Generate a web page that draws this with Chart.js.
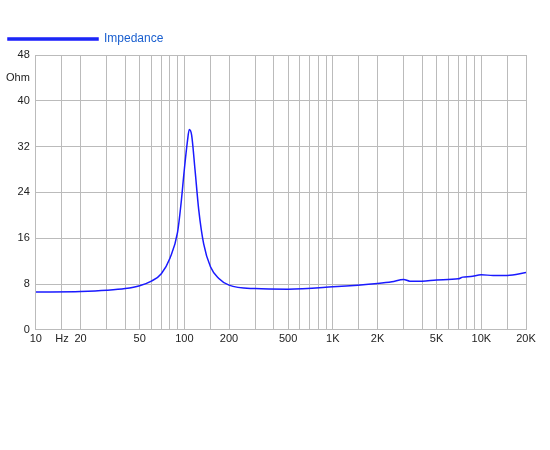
<!DOCTYPE html>
<html><head><meta charset="utf-8">
<script src="https://cdn.jsdelivr.net/npm/chart.js@4"></script>
<style>body{margin:0;background:#fff}#wrap{position:absolute;left:0;top:25px;width:550px;height:324px}</style>
</head><body>
<div id="wrap"><canvas id="c"></canvas></div>
<script>
const freqs = [10,20,30,40,50,60,70,80,90,95,100,105,108,112,118,125,135,150,170,200,300,500,1000,2000,2500,3000,3300,4000,5000,7000,7500,8500,10000,12000,15000,20000];
const ohms  = [6.6,6.7,6.9,7.2,7.7,8.5,9.8,12.5,17,22,28,33,35,34,28,21,15,11,9,7.8,7.2,7.1,7.5,8.1,8.4,8.8,8.5,8.5,8.7,8.9,9.2,9.3,9.6,9.5,9.5,10.0];
const xGrid = [10,15,20,30,40,50,60,70,80,90,100,150,200,300,400,500,600,700,800,900,1000,1500,2000,3000,4000,5000,6000,7000,8000,9000,10000,15000,20000];
const xLabels = {10:'10',15:'Hz',20:'20',50:'50',100:'100',200:'200',500:'500',1000:'1K',2000:'2K',5000:'5K',10000:'10K',20000:'20K'};
const yLabels = {0:'0',8:'8',16:'16',24:'24',32:'32',40:'40',44:'Ohm',48:'48'};

new Chart(document.getElementById('c'), {
  type: 'line',
  data: { datasets: [{
    label: 'Impedance',
    data: freqs.map((f, i) => ({ x: f, y: ohms[i] })),
    borderColor: '#1a1aff', backgroundColor: '#1a5fcf',
    borderWidth: 1.5, pointRadius: 0, tension: 0.4, cubicInterpolationMode: 'monotone'
  }]},
  options: {
    responsive: true, maintainAspectRatio: false, animation: false,
    layout: { padding: { left: 0, right: 24, top: 0, bottom: 0 } },
    plugins: {
      tooltip: { enabled: false },
      legend: { align: 'start', labels: { boxWidth: 90, boxHeight: 2, padding: 8,
        color: '#1a5fcf', font: { family: 'Liberation Sans', size: 12 } } }
    },
    scales: {
      x: {
        type: 'logarithmic', min: 10, max: 20000,
        afterBuildTicks: s => { s.ticks = xGrid.map(v => ({ value: v })); },
        ticks: { autoSkip: false, maxRotation: 0, color: '#222', font: { family: 'Liberation Sans', size: 11 },
          callback: v => xLabels[v] || '' },
        grid: { color: '#bbb', drawTicks: false },
        border: { color: '#bbb' }
      },
      y: {
        min: 0, max: 48,
        afterBuildTicks: s => { s.ticks = Object.keys(yLabels).map(v => ({ value: +v })); },
        ticks: { color: '#222', padding: 6, font: { family: 'Liberation Sans', size: 11 },
          callback: v => yLabels[v] },
        grid: { color: c => c.tick && c.tick.value === 44 ? 'rgba(0,0,0,0)' : '#bbb', drawTicks: false },
        border: { color: '#bbb' }
      }
    }
  }
});
</script></body></html>
